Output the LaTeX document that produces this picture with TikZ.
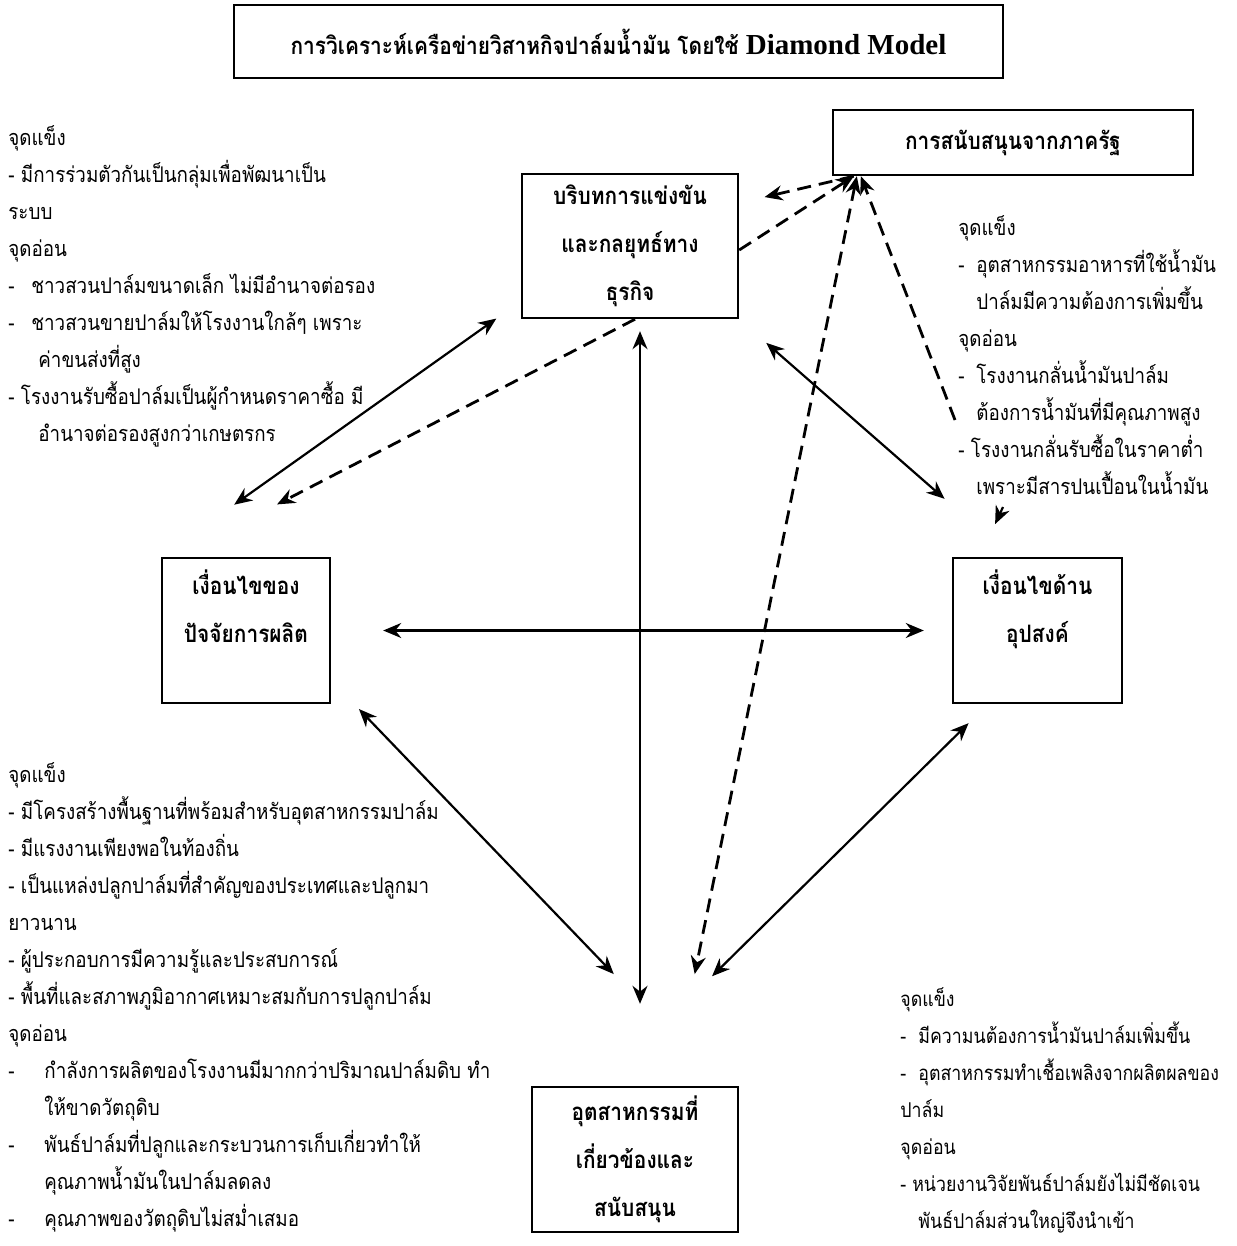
\documentclass[tikz,border=0pt]{standalone}
\usepackage{fontspec}
\setmainfont[Script=Thai,FakeStretch=0.87]{Loma}
\newfontfamily\latinfont{Liberation Serif}
\usetikzlibrary{arrows.meta}

\begin{document}
\begin{tikzpicture}[x=0.5pt,y=-0.5pt,
 box/.style={draw,line width=1.2pt,align=center,inner sep=0pt,font=\bfseries\fontsize{12}{24}\selectfont},
 note/.style={anchor=north west,align=left,inner sep=0pt,font=\fontsize{10.8}{18.5}\selectfont},
 both/.style={{Stealth[length=9pt,width=7.5pt]}-{Stealth[length=9pt,width=7.5pt]},line width=1.1pt},
 dasharrow/.style={-{Stealth[length=9pt,width=7.5pt]},line width=1.4pt,dash pattern=on 7pt off 4pt},
 dashboth/.style={{Stealth[length=9pt,width=7.5pt]}-{Stealth[length=9pt,width=7.5pt]},line width=1.4pt,dash pattern=on 7pt off 4pt}]
\useasboundingbox (0,0) rectangle (1236,1246);
% boxes
\node[box,minimum width=384.5pt,minimum height=36.5pt] (title) at (618.5,41.5) {การวิเคราะห์เครือข่ายวิสาหกิจปาล์มน้ำมัน โดยใช้ {\latinfont\fontsize{14.5}{16}\selectfont Diamond Model}};
\node[box,minimum width=180pt,minimum height=32.5pt] (gov) at (1013,142.5) {การสนับสนุนจากภาครัฐ};
\node[box,minimum width=108pt,minimum height=72pt] (ctx) at (630,246) {บริบทการแข่งขัน\\และกลยุทธ์ทาง\\ธุรกิจ};
\node[box,minimum width=84pt,minimum height=72.5pt] (prod) at (246,630.5) {เงื่อนไขของ\\ปัจจัยการผลิต\\\mbox{}};
\node[box,minimum width=84.5pt,minimum height=72.5pt] (dem) at (1037.5,630.5) {เงื่อนไขด้าน\\อุปสงค์\\\mbox{}};
\node[box,minimum width=103pt,minimum height=72.5pt] (rel) at (635,1159.5) {อุตสาหกรรมที่\\เกี่ยวข้องและ\\สนับสนุน};
% strengths and weaknesses
\node[note] (ctxnote) at (8,125) {จุดแข็ง\\
- มีการร่วมตัวกันเป็นกลุ่มเพื่อพัฒนาเป็น\\
ระบบ\\
จุดอ่อน\\
\makebox[11.5pt][l]{-}ชาวสวนปาล์มขนาดเล็ก ไม่มีอำนาจต่อรอง\\
\makebox[11.5pt][l]{-}ชาวสวนขายปาล์มให้โรงงานใกล้ๆ เพราะ\\
\hspace*{15pt}ค่าขนส่งที่สูง\\
- โรงงานรับซื้อปาล์มเป็นผู้กำหนดราคาซื้อ มี\\
\hspace*{15pt}อำนาจต่อรองสูงกว่าเกษตรกร};
\node[note] (demnote) at (958,215) {จุดแข็ง\\
\makebox[9pt][l]{-}อุตสาหกรรมอาหารที่ใช้น้ำมัน\\
\hspace*{9pt}ปาล์มมีความต้องการเพิ่มขึ้น\\
จุดอ่อน\\
\makebox[9pt][l]{-}โรงงานกลั่นน้ำมันปาล์ม\\
\hspace*{9pt}ต้องการน้ำมันที่มีคุณภาพสูง\\
- โรงงานกลั่นรับซื้อในราคาต่ำ\\
\hspace*{9pt}เพราะมีสารปนเปื้อนในน้ำมัน};
\node[note] (prodnote) at (8,762) {จุดแข็ง\\
- มีโครงสร้างพื้นฐานที่พร้อมสำหรับอุตสาหกรรมปาล์ม\\
- มีแรงงานเพียงพอในท้องถิ่น\\
- เป็นแหล่งปลูกปาล์มที่สำคัญของประเทศและปลูกมา\\
ยาวนาน\\
- ผู้ประกอบการมีความรู้และประสบการณ์\\
- พื้นที่และสภาพภูมิอากาศเหมาะสมกับการปลูกปาล์ม\\
จุดอ่อน\\
\makebox[18pt][l]{-}กำลังการผลิตของโรงงานมีมากกว่าปริมาณปาล์มดิบ ทำ\\
\hspace*{18pt}ให้ขาดวัตถุดิบ\\
\makebox[18pt][l]{-}พันธ์ปาล์มที่ปลูกและกระบวนการเก็บเกี่ยวทำให้\\
\hspace*{18pt}คุณภาพน้ำมันในปาล์มลดลง\\
\makebox[18pt][l]{-}คุณภาพของวัตถุดิบไม่สม่ำเสมอ};
\node[note,font=\fontsize{10.2}{18.5}\selectfont] (relnote) at (900,987) {จุดแข็ง\\
\makebox[9pt][l]{-}มีความนต้องการน้ำมันปาล์มเพิ่มขึ้น\\
\makebox[9pt][l]{-}อุตสาหกรรมทำเชื้อเพลิงจากผลิตผลของ\\
ปาล์ม\\
จุดอ่อน\\
- หน่วยงานวิจัยพันธ์ปาล์มยังไม่มีชัดเจน\\
\hspace*{9pt}พันธ์ปาล์มส่วนใหญ่จึงนำเข้า};
% solid links
\draw[both,shorten <=45pt,shorten >=15pt] (prod.north west) -- ([yshift=9pt]ctx.south west);
\draw[both,shorten <=18pt,shorten >=44pt] (ctx.south east) -- ([xshift=29.5pt]dem.north west);
\draw[both,shorten <=20pt,shorten >=77.5pt] ([yshift=12pt]prod.south east) -- ([xshift=-9pt]rel.north east);
\draw[both,shorten <=78pt,shorten >=13.5pt] ([xshift=-17pt]rel.north) -- ([xshift=18pt]dem.south west);
\draw[both,shorten <=26pt,shorten >=14pt] (prod.east) -- (dem.west);
\draw[both,shorten <=6pt,shorten >=41pt] ([xshift=5pt]ctx.south) -- ([xshift=2.5pt]rel.north);
% dashed links
\draw[dasharrow,shorten >=57pt] ([xshift=2.5pt]ctx.south) -- ([xshift=7.5pt]prod.north west);
\draw[dasharrow] ([yshift=-2pt]ctx.east) -- ([xshift=11pt]gov.south west);
\draw[dasharrow,shorten >=13pt] ([xshift=11pt]gov.south west) -- ([yshift=21.5pt]ctx.east);
\draw[dashboth,shorten >=57pt] ([xshift=12.5pt]gov.south west) -- ([xshift=18.5pt]rel.north);
\coordinate (weak) at (955,420);
\draw[dasharrow] (weak) -- ([xshift=14.5pt]gov.south west);
\coordinate (stub) at (1003,507);
\draw[-{Stealth[length=9pt,width=7.5pt]},line width=1.1pt,shorten >=18pt] (stub) -- ([xshift=-28.75pt]dem.north);
\end{tikzpicture}
\end{document}
